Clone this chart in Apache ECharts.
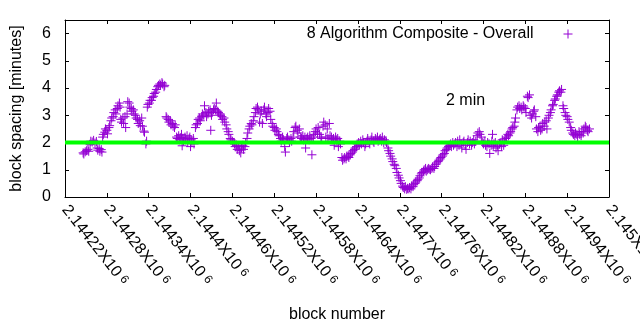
<!DOCTYPE html>
<html>
<head>
<meta charset="utf-8">
<script src="https://cdn.jsdelivr.net/npm/echarts@6/dist/echarts.min.js"></script>
<style>
html,body{margin:0;padding:0;background:#fff;}
#c{width:640px;height:330px;}
</style>
</head>
<body>
<div id="c"></div>
<script>
// ---- data ----
var seriesName = '8 Algorithm Composite - Overall';
var yAxisTitle = 'block spacing [minutes]';
var xAxisTitle = 'block number';
var refLabel = '2 min';
var refMinutes = 2;
var blockBase = 2144220; // block numbers below are offsets from this block
var xMin = 2144220, xMax = 2145000, xStep = 60;
var yMin = 0, yMax = 6.5, yStep = 1;
var xTickMantissa = ['2.14422','2.14428','2.14434','2.1444','2.14446','2.14452','2.14458',
  '2.14464','2.1447','2.14476','2.14482','2.14488','2.14494','2.145'];
var xTickExponent = '6';
var yTickLabels = ['0','1','2','3','4','5','6'];

// [block offset, block spacing in minutes]
var samples = [
[26,1.62],[27,1.58],[29,1.66],[31,1.70],[33,1.75],[34,1.68],[36,1.92],[37,2.05],[39,2.02],[41,2.08],[43,1.98],[45,2.04],[46,1.80],[47,1.72],[49,1.78],[50,1.68],[52,1.74],[53,1.65],
[54,2.2],[55,2.3],[57,2.38],[58,2.5],[60,2.45],[61,2.32],[63,2.55],[64,2.62],[66,2.8],[67,2.9],[69,2.95],[70,3.1],[72,3.2],[73,3.05],[75,3.25],[76,3.35],[78,3.45],[79,3.3],
[80,2.85],[81,2.75],[83,2.9],[84,2.7],[86,2.95],[87,2.55],[89,3.05],[90,3.5],[92,3.45],[93,3.3],[95,3.25],[96,3.15],[98,3.2],[99,3.05],[101,3.0],[102,2.9],[104,2.85],[105,2.7],[107,2.8],[108,2.62],[110,2.9],[111,2.6],[113,2.42],[114,2.38],[116,1.95],[117,2.05],
[118,3.3],[119,3.4],[121,3.45],[122,3.55],[124,3.55],[125,3.65],[127,3.7],[128,3.8],[130,3.85],[131,3.95],[133,4.05],[134,4.1],[136,4.15],[137,4.1],[139,4.2],[140,4.15],[142,4.05],[143,4.1],
[145,2.95],[146,2.9],[148,2.85],[149,2.75],[151,2.8],[152,2.65],[154,2.7],[155,2.6],[157,2.55],[158,2.65],
[160,2.2],[161,2.15],[163,2.25],[164,2.1],[166,2.18],[167,2.3],[168,1.88],[169,2.15],[170,2.05],[172,2.2],[173,2.1],[175,2.25],[176,2.0],[178,2.15],[179,2.2],[180,1.85],[181,2.1],[182,2.0],[184,2.15],[185,1.95],
[187,2.55],[188,2.65],[190,2.7],[191,2.85],[193,2.9],[194,2.8],[196,2.95],[197,3.05],[199,3.0],[200,3.35],[202,3.1],[203,2.95],[205,3.05],[206,3.15],[208,3.2],[209,2.45],
[210,3.0],[211,3.1],[213,3.2],[214,3.25],[216,3.2],[217,3.45],[219,3.15],[220,3.1],[222,3.05],[223,3.0],[225,2.95],[226,2.85],[228,2.9],[229,2.75],
[231,2.65],[232,2.5],[234,2.4],[235,2.3],[237,2.15],[238,2.1],[240,2.05],[241,2.0],
[243,1.95],[244,1.85],[246,1.9],[247,1.75],[249,1.85],[250,1.7],[252,1.62],[253,1.8],[255,1.9],[256,1.75],[258,1.85],[259,2.0],
[261,2.15],[262,2.35],[264,2.5],[265,2.6],[267,2.7],[268,2.65],
[270,2.8],[271,2.95],[273,3.1],[274,3.25],[276,3.3],[277,3.2],[279,2.75],[280,3.05],[282,3.15],[283,2.7],[285,3.2],[286,3.3],[288,3.05],[289,2.95],[291,3.1],[292,3.25],[294,3.15],[295,2.85],
[297,2.7],[298,2.6],[300,2.55],[301,2.45],[303,2.5],[304,2.4],[306,2.3],[307,2.25],
[309,2.15],[310,2.05],[312,2.2],[313,2.1],[315,1.85],[316,1.65],[318,2.15],[319,2.2],[321,2.1],[322,2.0],[324,2.15],[325,2.05],[327,2.2],
[328,2.4],[330,2.55],[331,2.6],[333,2.45],[334,2.35],[336,2.5],
[338,2.2],[339,2.15],[341,2.25],[342,2.1],[344,2.2],[345,1.8],[347,2.15],[348,2.2],[350,2.1],[351,2.25],[353,2.15],[354,1.55],[356,2.2],
[357,2.3],[359,2.4],[360,2.5],[362,2.35],[363,2.55],[365,2.3],
[367,2.2],[368,2.15],[370,2.6],[371,2.75],[373,2.65],[374,2.2],[376,2.5],[377,2.15],[379,2.7],[380,2.25],[382,2.2],[383,2.1],[385,2.15],[386,1.9],[388,2.2],[389,2.1],[391,2.15],[392,1.85],[394,2.05],[395,1.95],
[397,1.45],[398,1.35],[400,1.4],[401,1.45],[403,1.4],[404,1.5],[406,1.5],[407,1.45],[409,1.55],[410,1.6],[412,1.65],[413,1.7],[415,1.75],[416,1.8],
[418,1.85],[419,1.95],[421,2.0],[422,1.9],[424,2.05],[425,1.95],[427,2.1],[428,2.0],[430,1.85],[431,1.95],[433,2.05],[434,2.15],[436,2.0],[437,1.95],[439,2.1],[440,2.2],[442,2.05],[443,2.0],[445,2.15],[446,2.1],[448,2.2],[449,2.05],[451,2.1],[452,2.15],[454,2.05],[455,2.2],[457,2.0],[458,2.1],[460,2.05],[461,2.0],
[463,1.8],[464,1.7],[466,1.6],[467,1.5],[469,1.4],[470,1.3],[472,1.2],[473,1.15],[475,1.05],[476,0.9],[478,0.8],[479,0.7],[481,0.6],[482,0.5],
[484,0.4],[485,0.35],[487,0.3],[488,0.38],[490,0.28],[491,0.32],[493,0.3],[494,0.35],[496,0.3],[497,0.4],[499,0.38],[500,0.45],
[502,0.5],[503,0.55],[505,0.6],[506,0.65],[508,0.7],[509,0.78],[511,0.85],[512,0.9],[514,0.95],[515,1.0],[517,1.05],[518,0.95],[520,1.0],[521,1.05],[523,1.02],[524,1.0],[526,1.05],[527,1.1],[529,1.05],[530,1.12],[532,1.2],[533,1.25],[535,1.3],[536,1.35],[538,1.4],[539,1.45],[541,1.5],[542,1.55],
[544,1.6],[545,1.7],[547,1.75],[548,1.8],[550,1.85],[551,1.9],[553,1.95],[554,1.85],[556,2.0],[557,1.9],
[559,1.95],[560,2.0],[562,1.85],[563,2.05],[565,1.9],[566,2.1],[568,1.95],[569,1.8],[571,2.0],[572,2.05],[574,1.9],[575,1.75],[577,2.0],[578,2.1],[580,1.95],[581,2.05],[583,1.9],[584,2.0],[586,2.1],[587,1.95],[589,2.05],
[591,2.25],[592,2.35],[594,2.4],[595,2.3],[597,2.2],
[599,2.0],[600,1.95],[602,2.05],[603,1.9],[605,1.85],[606,2.0],[608,1.95],[609,1.6],[611,1.9],[612,2.05],[613,2.3],[614,1.85],[615,1.95],[617,2.0],[618,1.8],[620,1.9],[621,1.7],[623,1.95],[624,2.0],[626,1.85],[627,2.1],[629,1.9],[630,2.05],
[632,2.15],[633,2.2],[635,2.3],[636,2.25],[638,2.35],[639,2.4],[641,2.5],[642,2.55],[644,2.6],
[645,2.75],[646,2.9],[648,3.2],[649,3.3],[651,3.35],[652,3.25],[654,3.3],[655,3.2],[657,3.35],[658,3.3],[660,3.25],[661,3.1],[663,3.7],[664,3.65],[666,3.75],[667,3.0],[669,2.9],[670,3.05],[672,3.15],[673,3.2],[675,2.95],[676,2.5],[678,2.4],[679,2.55],[681,2.6],[682,2.45],[684,2.5],[685,2.7],[687,2.6],[688,2.75],[690,2.8],[691,2.5],[693,2.9],
[694,3.0],[696,3.1],[697,3.2],[699,3.35],[700,3.4],[702,3.55],[703,3.6],[705,3.7],[706,3.75],[708,3.85],[709,3.9],[711,3.85],[712,3.95],
[714,3.35],[715,3.25],[717,3.1],[718,3.0],[720,2.95],[721,2.85],[723,2.75],
[725,2.55],[726,2.45],[728,2.35],[729,2.3],[731,2.25],[732,2.35],[734,2.3],[735,2.2],[737,2.4],[738,2.3],[740,2.25],[741,2.4],[743,2.35],[744,2.5],[746,2.6],[747,2.55],[749,2.45],[750,2.4],[752,2.5]
];

// ---- chart ----
var FONT = 'Liberation Sans, Arial, sans-serif';
var points = samples.map(function (s) { return [blockBase + s[0], s[1]]; });
var refLine = [[xMin, refMinutes], [xMax, refMinutes]];

function xLabel(v) {
  var i = Math.round((v - xMin) / xStep);
  var m = xTickMantissa[i];
  if (m === undefined) return '';
  return '{m|' + m + 'X10}{s|' + xTickExponent + '}';
}
function yLabel(v) {
  var i = Math.round((v - yMin) / yStep);
  if (Math.abs(v - (yMin + i * yStep)) > 1e-9) return '';
  return yTickLabels[i] || '';
}

var chart = echarts.init(document.getElementById('c'), null, {renderer: 'canvas'});
var plusPath = 'path://M0,5L10,5M5,0L5,10';
chart.setOption({
  backgroundColor: '#ffffff',
  animation: false,
  grid: {left: 65, right: 31, top: 20, bottom: 133, containLabel: false, outerBoundsMode: 'none'},
  legend: {
    show: true,
    data: [{name: seriesName, icon: plusPath}],
    right: 62, top: 21,
    align: 'right',
    itemWidth: 9, itemHeight: 9,
    itemStyle: {color: 'rgba(0,0,0,0)', borderColor: '#9400d3', borderWidth: 1},
    textStyle: {fontFamily: FONT, fontSize: 16, color: '#000', padding: [0, 25, 0, 0]}
  },
  graphic: [{
    type: 'text', left: 446, top: 93,
    style: {text: refLabel, fontFamily: FONT, fontSize: 16, fill: '#000'}
  }],
  xAxis: [{
    type: 'value', min: xMin, max: xMax, interval: xStep,
    name: xAxisTitle, nameLocation: 'middle', nameGap: 110,
    nameTextStyle: {fontFamily: FONT, fontSize: 16, color: '#000'},
    axisLine: {show: true, onZero: false, lineStyle: {color: '#000', width: 1}},
    axisTick: {show: true, inside: true, length: 4, lineStyle: {color: '#000'}},
    splitLine: {show: false},
    axisLabel: {
      show: true, rotate: -52, margin: 10, formatter: xLabel,
      showMinLabel: true, showMaxLabel: true, hideOverlap: false,
      rich: {
        m: {fontFamily: FONT, fontSize: 16, color: '#000'},
        s: {fontFamily: FONT, fontSize: 12, color: '#000', verticalAlign: 'top', padding: [0, 0, 0, 4]}
      }
    }
  }, {
    type: 'value', position: 'top', min: xMin, max: xMax, interval: xStep,
    axisLine: {show: true, onZero: false, lineStyle: {color: '#000', width: 1}},
    axisTick: {show: true, inside: true, length: 4, lineStyle: {color: '#000'}},
    axisLabel: {show: false}, splitLine: {show: false}
  }],
  yAxis: [{
    type: 'value', min: yMin, max: yMax, interval: yStep,
    name: yAxisTitle, nameLocation: 'middle', nameGap: 40, nameRotate: 90,
    nameTextStyle: {fontFamily: FONT, fontSize: 16, color: '#000'},
    axisLine: {show: true, onZero: false, lineStyle: {color: '#000', width: 1}},
    axisTick: {show: true, inside: true, length: 4, lineStyle: {color: '#000'}},
    splitLine: {show: false},
    axisLabel: {show: true, margin: 14, formatter: yLabel, showMaxLabel: false,
      fontFamily: FONT, fontSize: 16, color: '#000'}
  }, {
    type: 'value', position: 'right', min: yMin, max: yMax, interval: yStep,
    axisLine: {show: true, onZero: false, lineStyle: {color: '#000', width: 1}},
    axisTick: {show: true, inside: true, length: 4, lineStyle: {color: '#000'}},
    axisLabel: {show: false}, splitLine: {show: false}
  }],
  series: [{
    name: seriesName,
    type: 'scatter',
    xAxisIndex: 0, yAxisIndex: 0,
    data: points,
    symbol: plusPath,
    symbolSize: 9,
    itemStyle: {color: 'rgba(0,0,0,0)', borderColor: '#9400d3', borderWidth: 1, opacity: 1},
    emphasis: {disabled: true},
    z: 2
  }, {
    name: refLabel,
    type: 'line',
    xAxisIndex: 0, yAxisIndex: 0,
    data: refLine,
    symbol: 'none',
    lineStyle: {color: '#00ff00', width: 4},
    emphasis: {disabled: true},
    z: 3
  }]
});
</script>
</body>
</html>
